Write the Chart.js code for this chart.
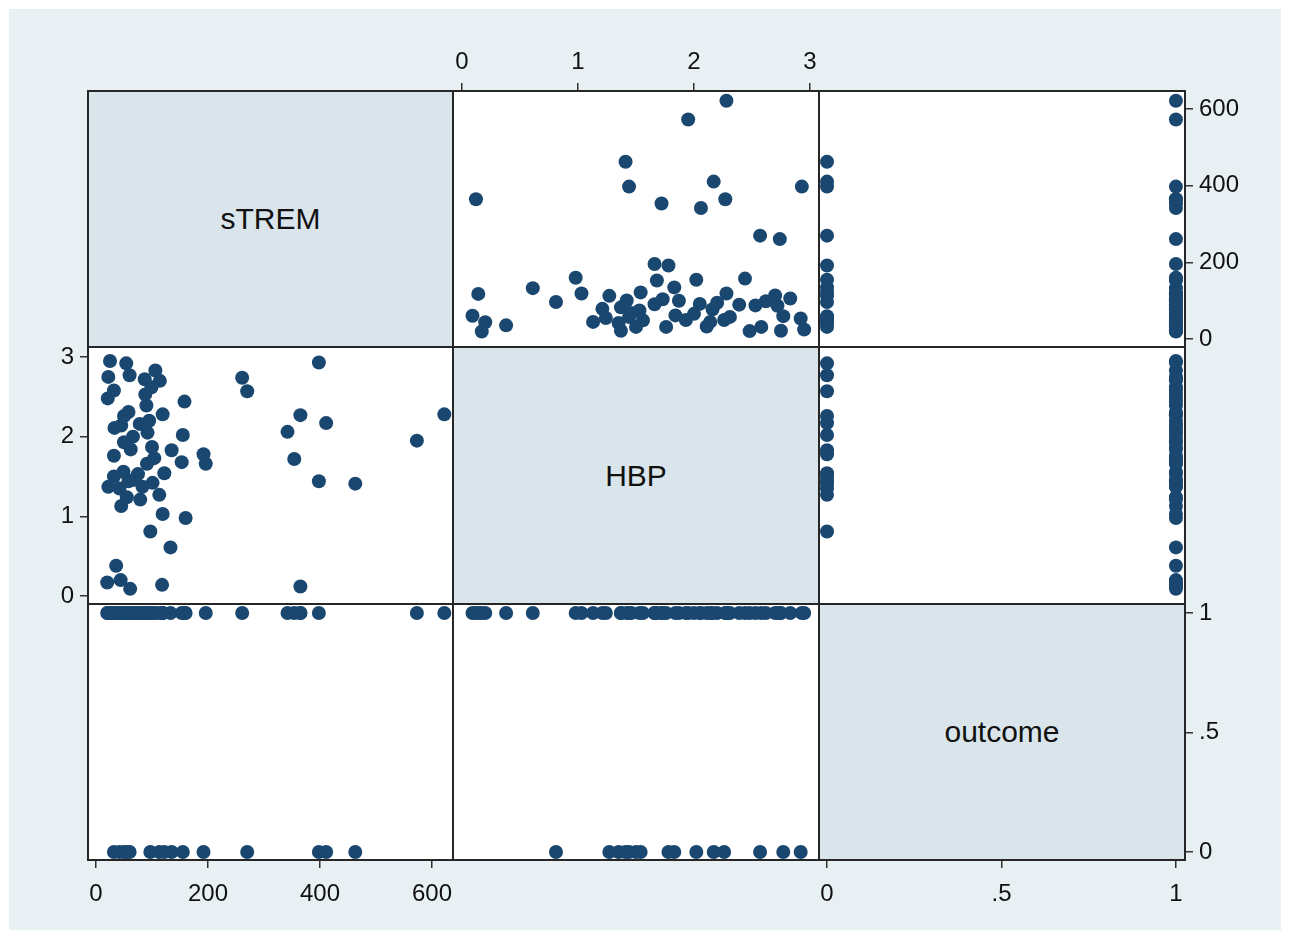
<!DOCTYPE html>
<html>
<head>
<meta charset="utf-8">
<script src="https://cdn.jsdelivr.net/npm/chart.js@4/dist/chart.umd.min.js"></script>
<style>
  html, body { margin: 0; padding: 0; background: #ffffff; }
  body { width: 1290px; height: 939px; position: relative; overflow: hidden;
         font-family: "Liberation Sans", Arial, sans-serif; }
  .abs { position: absolute; }
  #frame { left: 9px; top: 9px; width: 1272px; height: 921px; background: #e8f0f3; }
  #plot { left: 88px; top: 91px; width: 1097px; height: 769px; background: #ffffff; }
  .diag { background: #d9e5eb; display: flex; align-items: center; justify-content: center;
          font-size: 30px; color: #111; }
  .line { background: #262626; }
  canvas { position: absolute; }
</style>
</head>
<body>
<div id="frame" class="abs"></div>
<div id="plot" class="abs"></div>
<div id="layer"></div>
<script>
// Variables of the scatterplot matrix (one entry per subject)
const varNames = ['sTREM', 'HBP', 'outcome'];
const sTREM = [622, 573, 463, 398, 365, 354, 411, 342, 365, 398, 270, 261,
  118, 61, 44, 20, 36, 133, 97, 160, 119, 45, 79, 113, 55, 42, 22, 101, 58, 32,
  122, 75, 49, 196, 192, 153, 91, 104, 135, 100, 32, 62, 50, 155, 92, 33, 45,
  95, 119, 50, 58, 90, 158, 21, 32, 88, 99, 114, 60, 22, 106, 54, 25, 78, 66,
  87, 83, 68];
const HBP = [2.28, 1.95, 1.41, 1.44, 0.12, 1.72, 2.17, 2.06, 2.27, 2.93, 2.57, 2.74,
  0.14, 0.09, 0.20, 0.17, 0.38, 0.61, 0.81, 0.98, 1.03, 1.13, 1.21, 1.27, 1.24, 1.35,
  1.37, 1.42, 1.44, 1.50, 1.54, 1.53, 1.56, 1.66, 1.78, 1.68, 1.66, 1.73, 1.83, 1.87,
  1.76, 1.84, 1.93, 2.02, 2.05, 2.11, 2.14, 2.20, 2.28, 2.26, 2.31, 2.39, 2.44, 2.48,
  2.58, 2.53, 2.62, 2.70, 2.77, 2.75, 2.83, 2.92, 2.95, 2.16, 2.00, 2.72, 1.37, 1.46];
const outcome = [1, 1, 0, 0, 1, 1, 0, 1, 1, 1, 0, 1,
  1, 1, 1, 1, 1, 1, 0, 1, 1, 1, 1, 0, 1, 0, 1, 1, 1, 0,
  0, 1, 1, 1, 0, 1, 1, 1, 0, 1, 1, 1, 1, 0, 1, 1, 1,
  1, 1, 0, 1, 1, 1, 1, 1, 1, 1, 1, 0, 1, 1, 0, 1, 1, 1,
  1, 1, 1];

// Tick values and their labels per variable
const sTREMTicks = [0, 200, 400, 600];
const sTREMTickLabels = ['0', '200', '400', '600'];
const HBPTicks = [0, 1, 2, 3];
const HBPTickLabels = ['0', '1', '2', '3'];
const outcomeTicks = [0, 0.5, 1];
const outcomeTickLabels = ['0', '.5', '1'];

const columns = { sTREM, HBP, outcome };
const ticksOf = {
  sTREM: [sTREMTicks, sTREMTickLabels],
  HBP: [HBPTicks, HBPTickLabels],
  outcome: [outcomeTicks, outcomeTickLabels]
};

// Panel grid edges (px) and axis extents for horizontal / vertical use
const colX = [88, 453, 819, 1185];
const rowY = [91, 347, 604, 860];
const hRange = { sTREM: [-14.3, 637.5], HBP: [-0.078, 3.078], outcome: [-0.023, 1.026] };
const vRange = { sTREM: [-20.5, 647.4], HBP: [-0.100, 3.125], outcome: [-0.0335, 1.0377] };
const M = 70;           // room reserved around each panel for its axis
const FONT = '"Liberation Sans", Arial, sans-serif';
const MARK = '#1a476f';

const layer = document.getElementById('layer');

function makeScale(name, range, position, show, horizontal) {
  const [vals, labels] = ticksOf[name];
  return {
    type: 'linear',
    position,
    display: show,
    min: range[0],
    max: range[1],
    afterBuildTicks: s => { s.ticks = vals.map(v => ({ value: v })); },
    afterFit: s => {
      if (!show) return;
      if (horizontal) s.height = M; else s.width = M;
    },
    grid: { drawOnChartArea: false, drawTicks: true, tickLength: 8,
            color: '#333333', lineWidth: 1.5 },
    border: { display: false },
    ticks: {
      autoSkip: false, maxRotation: 0, color: '#111111',
      padding: position === 'bottom' ? 12 : 6,
      font: { family: FONT, size: 24 },
      callback: v => { const k = vals.indexOf(v); return k >= 0 ? labels[k] : ''; }
    }
  };
}

for (let r = 0; r < 3; r++) {
  for (let c = 0; c < 3; c++) {
    const x0 = colX[c], y0 = rowY[r];
    const w = colX[c + 1] - x0, h = rowY[r + 1] - y0;

    if (r === c) {
      const d = document.createElement('div');
      d.className = 'abs diag';
      Object.assign(d.style, { left: x0 + 'px', top: y0 + 'px', width: w + 'px', height: h + 'px' });
      d.textContent = varNames[r];
      layer.appendChild(d);
    }

    // axes alternate sides from panel to panel
    const xPos = c === 1 ? 'top' : 'bottom';
    const xShow = (c === 1 && r === 0) || (c !== 1 && r === 2);
    const yPos = r === 1 ? 'left' : 'right';
    const yShow = (r === 1 && c === 0) || (r !== 1 && c === 2);
    if (r === c && !xShow && !yShow) continue;

    const cv = document.createElement('canvas');
    cv.width = w + 2 * M;
    cv.height = h + 2 * M;
    cv.style.left = (x0 - M) + 'px';
    cv.style.top = (y0 - M) + 'px';
    layer.appendChild(cv);

    const xName = varNames[c], yName = varNames[r];
    const datasets = r === c ? [] : [{
      data: columns[xName].map((v, i) => ({ x: v, y: columns[yName][i] })),
      backgroundColor: MARK,
      borderColor: MARK,
      borderWidth: 0,
      pointRadius: 7,
      pointHoverRadius: 7,
      clip: false
    }];

    new Chart(cv, {
      type: 'scatter',
      data: { datasets },
      options: {
        responsive: false,
        animation: false,
        events: [],
        layout: { padding: {
          left: yShow && yPos === 'left' ? 0 : M,
          right: yShow && yPos === 'right' ? 0 : M,
          top: xShow && xPos === 'top' ? 0 : M,
          bottom: xShow && xPos === 'bottom' ? 0 : M
        } },
        plugins: { legend: { display: false }, tooltip: { enabled: false } },
        scales: {
          x: makeScale(xName, hRange[xName], xPos, xShow, true),
          y: makeScale(yName, vRange[yName], yPos, yShow, false)
        }
      }
    });
  }
}

// panel frame lines
const gTop = rowY[0], gBottom = rowY[3], gLeft = colX[0], gRight = colX[3];
colX.forEach(x => {
  const l = document.createElement('div');
  l.className = 'abs line';
  Object.assign(l.style, { left: (x - 1) + 'px', top: (gTop - 1) + 'px', width: '2px', height: (gBottom - gTop + 2) + 'px' });
  layer.appendChild(l);
});
rowY.forEach(y => {
  const l = document.createElement('div');
  l.className = 'abs line';
  Object.assign(l.style, { left: (gLeft - 1) + 'px', top: (y - 1) + 'px', width: (gRight - gLeft + 2) + 'px', height: '2px' });
  layer.appendChild(l);
});
</script>
</body>
</html>
